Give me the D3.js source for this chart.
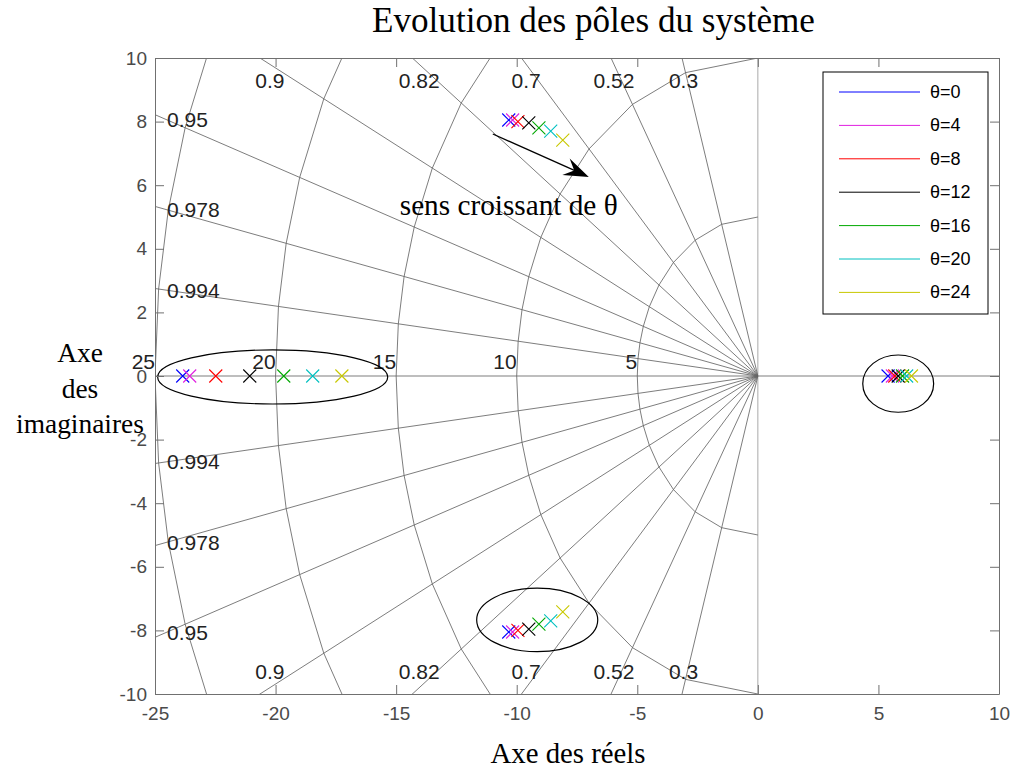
<!DOCTYPE html>
<html>
<head>
<meta charset="utf-8">
<script src="https://cdn.jsdelivr.net/npm/d3@7"></script>
<style>
    body { margin: 0; background: #fff; }
</style>
</head>
<body>
<svg id="chart" width="1016" height="771"></svg>
<script>

// theta values and colours of the seven pole sets
var thetas = [0, 4, 8, 12, 16, 20, 24];
var colors = ['#0000ff', '#e020e0', '#ff0000', '#000000', '#00a800', '#00c0c0', '#c8c800'];

// poles
var realNeg = [-23.85, -23.56, -22.48, -21.07, -19.66, -18.46, -17.25];
var complexRe = [-10.33, -10.17, -9.95, -9.50, -9.08, -8.59, -8.09];
var complexIm = [8.05, 8.05, 8.00, 7.96, 7.80, 7.70, 7.42];
var realPos = [5.40, 5.58, 5.68, 5.82, 6.00, 6.17, 6.37];

// s-plane grid
var zetas = [0.3, 0.52, 0.7, 0.82, 0.9, 0.95, 0.978, 0.994];
var wns = [5, 10, 15, 20, 25];

// ticks
var xTicks = [-25, -20, -15, -10, -5, 0, 5, 10];
var yTicks = [-10, -8, -6, -4, -2, 0, 2, 4, 6, 8, 10];

// hand-drawn ellipses round the pole groups: [cx, cy, rx, ry]
var ellipses = [[-20.12, -0.03, 4.77, 0.85], [-9.15, -7.67, 2.51, 1.0], [5.82, -0.24, 1.47, 0.9]];
var arrowFrom = [-10.99, 7.61];
var arrowTo = [-7.01, 6.26];

var pLeft = 155, pRight = 999, pTop = 58, pBottom = 694;
var serif = '"URW Palladio L", "Palatino Linotype", Palatino, "Liberation Serif", serif';
var sans = '"Liberation Sans", Arial, sans-serif';

var svg = d3.select('#chart');

var x = d3.scaleLinear().domain([-25, 10]).range([pLeft, pRight]);
var y = d3.scaleLinear().domain([-10, 10]).range([pBottom, pTop]);

svg.append('defs').append('clipPath').attr('id', 'clip')
    .append('rect')
    .attr('x', pLeft).attr('y', pTop)
    .attr('width', pRight - pLeft).attr('height', pBottom - pTop);

var grid = svg.append('g').attr('clip-path', 'url(#clip)')
    .attr('stroke', '#666').attr('stroke-width', 0.85).attr('fill', 'none');

// zero lines
grid.append('line').attr('x1', pLeft).attr('x2', pRight).attr('y1', y(0)).attr('y2', y(0));
grid.append('line').attr('x1', x(0)).attr('x2', x(0)).attr('y1', pTop).attr('y2', pBottom)
    .attr('stroke', '#999');

// damping rays
zetas.forEach(function (z) {
    var s = Math.sqrt(1 - z * z);
    [1, -1].forEach(function (sign) {
        grid.append('line')
            .attr('x1', x(0)).attr('y1', y(0))
            .attr('x2', x(-40 * z)).attr('y2', y(sign * 40 * s));
    });
});

// natural frequency arcs (straight between the rays, like the original)
var arcLine = d3.line()
    .x(function (d) { return x(d[0]); })
    .y(function (d) { return y(d[1]); });

wns.forEach(function (r) {
    var pts = [[0, r]];
    zetas.forEach(function (z) { pts.push([-r * z, r * Math.sqrt(1 - z * z)]); });
    pts.push([-r, 0]);
    zetas.slice().reverse().forEach(function (z) { pts.push([-r * z, -r * Math.sqrt(1 - z * z)]); });
    pts.push([0, -r]);
    grid.append('path').attr('d', arcLine(pts));
});

// grid labels
var labels = svg.append('g').attr('font-family', sans).attr('font-size', 21).attr('fill', '#222');

zetas.forEach(function (z) {
    var t = Math.sqrt(1 - z * z) / z;
    [1, -1].forEach(function (sign) {
        if (24.5 * t > 10) {
            labels.append('text')
                .attr('x', x(-9.8 / t))
                .attr('y', y(sign * 9.28))
                .attr('text-anchor', 'middle')
                .attr('dominant-baseline', 'central')
                .text(z);
        } else {
            labels.append('text')
                .attr('x', x(-24.5))
                .attr('y', y(sign * 24.5 * t))
                .attr('dominant-baseline', 'central')
                .text(z);
        }
    });
});

wns.forEach(function (r) {
    labels.append('text')
        .attr('x', x(-r))
        .attr('y', y(0.22))
        .attr('text-anchor', 'end')
        .text(r);
});

// poles
var cross = function (px, py) {
    var h = 6.5;
    return 'M' + (px - h) + ',' + (py - h) + 'L' + (px + h) + ',' + (py + h) +
        'M' + (px - h) + ',' + (py + h) + 'L' + (px + h) + ',' + (py - h);
};

thetas.forEach(function (th, i) {
    var poles = [[realNeg[i], 0], [complexRe[i], complexIm[i]], [complexRe[i], -complexIm[i]], [realPos[i], 0]];
    svg.append('g')
        .selectAll('path')
        .data(poles)
        .enter()
        .append('path')
        .attr('d', function (d) { return cross(x(d[0]), y(d[1])); })
        .attr('stroke', colors[i])
        .attr('stroke-width', 1.1)
        .attr('fill', 'none');
});

// ellipses
svg.append('g').selectAll('ellipse')
    .data(ellipses)
    .enter()
    .append('ellipse')
    .attr('cx', function (d) { return x(d[0]); })
    .attr('cy', function (d) { return y(d[1]); })
    .attr('rx', function (d) { return x(d[2]) - x(0); })
    .attr('ry', function (d) { return y(0) - y(d[3]); })
    .attr('fill', 'none')
    .attr('stroke', '#000')
    .attr('stroke-width', 1.2);

// arrow
var ax1 = x(arrowFrom[0]), ay1 = y(arrowFrom[1]), ax2 = x(arrowTo[0]), ay2 = y(arrowTo[1]);
var len = Math.sqrt((ax2 - ax1) * (ax2 - ax1) + (ay2 - ay1) * (ay2 - ay1));
var ux = (ax2 - ax1) / len, uy = (ay2 - ay1) / len;
var nx = -uy, ny = ux;
svg.append('line')
    .attr('x1', ax1).attr('y1', ay1)
    .attr('x2', ax2 - 14 * ux).attr('y2', ay2 - 14 * uy)
    .attr('stroke', '#000').attr('stroke-width', 1.3);
svg.append('path')
    .attr('d', 'M' + ax2 + ',' + ay2 +
        'L' + (ax2 - 25 * ux + 9 * nx) + ',' + (ay2 - 25 * uy + 9 * ny) +
        'L' + (ax2 - 16 * ux) + ',' + (ay2 - 16 * uy) +
        'L' + (ax2 - 25 * ux - 9 * nx) + ',' + (ay2 - 25 * uy - 9 * ny) + 'Z')
    .attr('fill', '#000');

function fit(t, w) {
    var l = t.node().getComputedTextLength();
    t.attr('font-size', parseFloat(t.attr('font-size')) * w / l);
}

fit(svg.append('text')
    .attr('x', x(-14.85)).attr('y', y(5.06))
    .attr('font-family', serif).attr('font-size', 22)
    .text('sens croissant de θ'), 218);

// axes, ticks inside on all four sides
var axisStyle = function (g) {
    g.select('.domain').attr('stroke', '#707070');
    g.selectAll('.tick line').attr('stroke', '#707070');
    g.selectAll('.tick text').attr('fill', '#4a4a4a').attr('font-family', sans).attr('font-size', 19);
};
var plain = function (d) { return String(d); };

svg.append('g').attr('transform', 'translate(0,' + pBottom + ')')
    .call(d3.axisBottom(x).tickValues(xTicks).tickFormat(plain).tickSizeInner(-9).tickSizeOuter(0).tickPadding(13))
    .call(axisStyle);
svg.append('g').attr('transform', 'translate(0,' + pTop + ')')
    .call(d3.axisTop(x).tickValues(xTicks).tickSizeInner(-9).tickSizeOuter(0).tickFormat(''))
    .call(axisStyle);
svg.append('g').attr('transform', 'translate(' + pLeft + ',0)')
    .call(d3.axisLeft(y).tickValues(yTicks).tickFormat(plain).tickSizeInner(-9).tickSizeOuter(0).tickPadding(8))
    .call(axisStyle);
svg.append('g').attr('transform', 'translate(' + pRight + ',0)')
    .call(d3.axisRight(y).tickValues(yTicks).tickSizeInner(-9).tickSizeOuter(0).tickFormat(''))
    .call(axisStyle);

// legend
var legend = svg.append('g').attr('transform', 'translate(' + (pRight - 176) + ',' + (pTop + 14) + ')');
legend.append('rect')
    .attr('width', 165).attr('height', 242)
    .attr('fill', '#fff').attr('stroke', '#000').attr('stroke-width', 1);

var rows = legend.selectAll('g.row')
    .data(thetas)
    .enter()
    .append('g')
    .attr('class', 'row')
    .attr('transform', function (d, i) { return 'translate(0,' + (20 + i * 33.4) + ')'; });

rows.append('line')
    .attr('x1', 16).attr('x2', 97)
    .attr('stroke', function (d, i) { return colors[i]; })
    .attr('stroke-width', 1);

rows.append('text')
    .attr('x', 107)
    .attr('dominant-baseline', 'central')
    .attr('font-family', sans).attr('font-size', 18).attr('fill', '#000')
    .text(function (d) { return 'θ=' + d; });

// titles
fit(svg.append('text')
    .attr('x', 593.5).attr('y', 32)
    .attr('text-anchor', 'middle')
    .attr('font-family', serif).attr('font-size', 32)
    .text('Evolution des pôles du système'), 443);

fit(svg.append('text')
    .attr('x', 568).attr('y', 763)
    .attr('text-anchor', 'middle')
    .attr('font-family', serif).attr('font-size', 23)
    .text('Axe des réels'), 155);

var ylab = svg.append('text')
    .attr('text-anchor', 'middle')
    .attr('font-family', serif).attr('font-size', 23);
['Axe', 'des', 'imaginaires'].forEach(function (s, i) {
    ylab.append('tspan').attr('x', 80).attr('y', 362 + i * 35.5).text(s);
});
// size the three lines so "imaginaires" is as wide as in the original
var longest = ylab.selectAll('tspan').nodes()[2].getComputedTextLength();
ylab.attr('font-size', 23 * 128 / longest);

</script>
</body>
</html>
